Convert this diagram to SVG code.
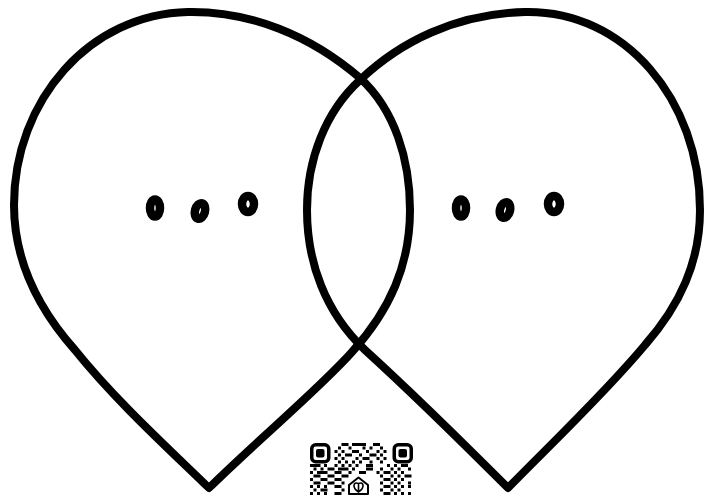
<svg xmlns="http://www.w3.org/2000/svg" width="710" height="496" viewBox="0 0 710 496">
<style>
.drop{fill:none;stroke:#000;stroke-width:8;stroke-linejoin:round;stroke-linecap:round}
.dot{fill:none;stroke:#000;stroke-width:8.5}
.qr{fill:#000}
.qrline{fill:none;stroke:#000;stroke-width:3.5}
</style>
<rect width="710" height="496" fill="#fff"/>
<g id="connectors"></g>
<g id="drop-left">
<path class="drop" d="M209,488 C170,450 115,400 75,350 C35,305 14,258 14,205 C14,100 90,14 188,12 C250,11 310,35 360,78 C395,110 410,160 410,210 C410,265 390,310 352,352 C320,388 260,438 209,488 Z"/>
<ellipse class="dot" cx="155" cy="208" rx="5" ry="8.5"/>
<ellipse class="dot" cx="200" cy="211" rx="5" ry="8" transform="rotate(15 200 211)"/>
<ellipse class="dot" cx="248" cy="204" rx="6" ry="8"/>
</g>
<g id="drop-right">
<path class="drop" d="M508,488 C470,450 420,400 365,350 C325,312 307,262 307,210 C307,160 325,112 360,80 C400,42 455,14 525,12 C625,10 700,100 700,210 C700,262 680,305 645,345 C605,393 550,445 508,488 Z"/>
<ellipse class="dot" cx="461" cy="208" rx="5" ry="8.5"/>
<ellipse class="dot" cx="505" cy="210" rx="5" ry="8" transform="rotate(15 505 210)"/>
<ellipse class="dot" cx="554" cy="204" rx="6" ry="8"/>
</g>
<g id="qr-logo">
<rect class="qrline" x="311.75" y="444.75" width="17" height="17" rx="4"/>
<rect class="qr" x="316" y="449" width="8.5" height="8.5" rx="2"/>
<rect class="qrline" x="394.25" y="444.75" width="17" height="17" rx="4"/>
<rect class="qr" x="398.5" y="449" width="8.5" height="8.5" rx="2"/>
<path class="qr" d="M341.5,443h7v3h-7zM352,443h14v3h-14zM373,443h7v3h-7z
M338,446.5h3v3h-3zM348.5,446.5h3v3h-3zM362.5,446.5h3v3h-3zM369.5,446.5h3v3h-3zM380,446.5h3v3h-3z
M334.5,450h3v3h-3zM341.5,450h3v3h-3zM352,450h7v3h-7zM366,450h3v3h-3zM376.5,450h3v3h-3zM383.5,450h3v3h-3z
M338,453.5h3v3h-3zM345,453.5h7v3h-7zM359,453.5h3v3h-3zM369.5,453.5h7v3h-7zM380,453.5h3v3h-3z
M334.5,457h3v3h-3zM341.5,457h3v3h-3zM355.5,457h3v3h-3zM362.5,457h7v3h-7zM376.5,457h3v3h-3zM383.5,457h3v3h-3z
M338,460.5h3v3h-3zM345,460.5h3v3h-3zM352,460.5h3v3h-3zM359,460.5h3v3h-3zM369.5,460.5h3v3h-3zM380,460.5h3v3h-3z
M310,464h10.5v3h-10.5zM324,464h3v3h-3zM334.5,464h3v3h-3zM341.5,464h3v3h-3zM348.5,464h3v3h-3zM355.5,464h3v3h-3zM366,464h7v3h-7zM387,464h3v3h-3zM394,464h3v3h-3zM401,464h7v3h-7z
M313.5,467.5h3v3h-3zM320.5,467.5h3v3h-3zM327.5,467.5h7v3h-7zM338,467.5h10.5v3h-10.5zM352,467.5h3v3h-3zM366,467.5h7v3h-7zM380,467.5h3v3h-3zM390.5,467.5h3v3h-3zM397.5,467.5h3v3h-3zM408,467.5h3v3h-3z
M310,471h3v3h-3zM317,471h10.5v3h-10.5zM334.5,471h7v3h-7zM348.5,471h3v3h-3zM359,471h7v3h-7zM376.5,471h3v3h-3zM383.5,471h7v3h-7zM394,471h3v3h-3zM401,471h3v3h-3z
M313.5,474.5h7v3h-7zM327.5,474.5h7v3h-7zM341.5,474.5h7v3h-7zM380,474.5h3v3h-3zM390.5,474.5h3v3h-3zM397.5,474.5h3v3h-3zM404.5,474.5h7v3h-7z
M310,478h3v3h-3zM320.5,478h7v3h-7zM334.5,478h7v3h-7zM383.5,478h7v3h-7zM394,478h3v3h-3zM401,478h3v3h-3z
M313.5,481.5h7v3h-7zM327.5,481.5h7v3h-7zM341.5,481.5h3v3h-3zM380,481.5h3v3h-3zM390.5,481.5h3v3h-3zM397.5,481.5h3v3h-3zM408,481.5h3v3h-3z
M310,485h3v3h-3zM317,485h3v3h-3zM324,485h3v3h-3zM334.5,485h7v3h-7zM383.5,485h7v3h-7zM394,485h3v3h-3zM401,485h3v3h-3zM408,485h3v3h-3z
M313.5,488.5h3v3h-3zM320.5,488.5h7v3h-7zM341.5,488.5h3v3h-3zM380,488.5h3v3h-3zM390.5,488.5h3v3h-3zM397.5,488.5h3v3h-3z
M310,492h3v3h-3zM317,492h3v3h-3zM324,492h3v3h-3zM334.5,492h7v3h-7zM383.5,492h7v3h-7zM394,492h3v3h-3zM401,492h3v3h-3zM408,492h3v3h-3z"/>
<path fill="none" stroke="#000" stroke-width="2" stroke-linejoin="round" d="M349,494V485L358.5,477.5L368,485V494Z"/>
<path fill="none" stroke="#000" stroke-width="1.6" d="M358.5,492C352,488 353,481 358.5,483.5C364,481 365,488 358.5,492Z M358.5,483.5V492"/>
</g>
</svg>
